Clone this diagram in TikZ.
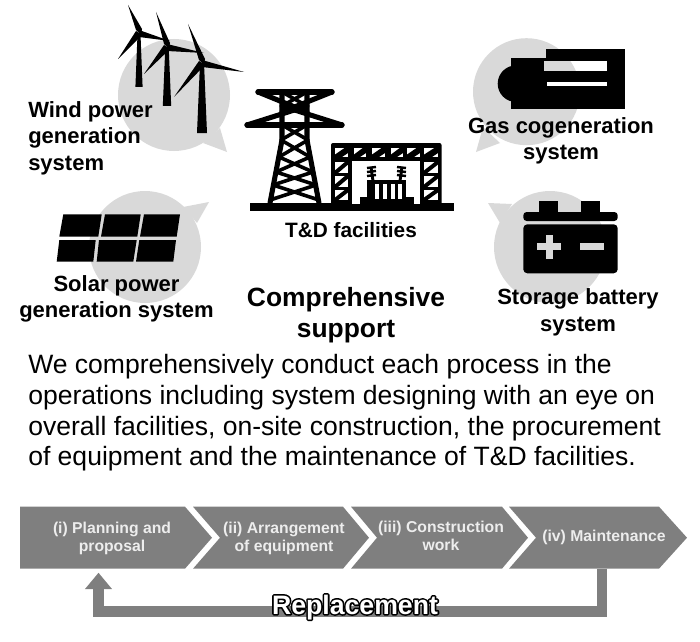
\documentclass[tikz,border=0pt]{standalone}
\usepackage{fontspec}
\setmainfont{Liberation Sans}
\usetikzlibrary{arrows.meta}
\definecolor{bub}{HTML}{D9D9D9}
\definecolor{chev}{HTML}{7F7F7F}
\newcommand{\outlined}[1]{\rlap{\special{pdf:code 2 Tr 0 0 0 RG 2.4 w 1 j}#1\special{pdf:code 0 Tr 0.75 w 0 j}}#1}
\tikzset{
  bubble/.style={fill=bub,draw=none},
  ink/.style={fill=black,draw=none},
  steel/.style={draw=black,line width=3.8pt,line cap=round,line join=round},
  brace/.style={draw=black,line width=2.7pt,line cap=round},
  blade/.style={fill=black,draw=none},
  chevron/.style={fill=chev,draw=none},
  lab/.style={font=\fontsize{16.5}{19.9}\selectfont\bfseries,inner sep=0pt,align=center,text=black},
  chevlab/.style={font=\fontsize{11.8}{13.6}\selectfont\bfseries,inner sep=0pt,align=center,text=white!93!black},
}
\begin{document}
\begin{tikzpicture}[x=0.75pt,y=-0.75pt]
\useasboundingbox (0,0) rectangle (700,642);
% bubbles
\fill[bubble] (174,95) circle (56);
\fill[bubble] (203,143) -- (227,152) -- (220,128) -- cycle;
\fill[bubble] (145,247) circle (56);
\fill[bubble] (183,207) -- (209,202) -- (197,223) -- cycle;
\fill[bubble] (526.5,91.7) circle (53.5);
\fill[bubble] (500,143) -- (476,152) -- (483,127) -- cycle;
\fill[bubble] (550,247) circle (56);
\fill[bubble] (512,204) -- (488,203) -- (500,223) -- cycle;
% turbines
\newcommand{\turbine}[9]{%
  \fill[blade] (#1-#3*.4,#2) -- (#1+#3*.4,#2) -- (#1+#3,#4) -- (#1-#3,#4) -- cycle;
  \fill[blade] (#1-3,#2-3) -- (#5,#6) -- (#1+3,#2-4) -- (#1+2,#2+2) -- cycle;
  \fill[blade] (#1,#2-3) -- (#7,#8) -- (#1,#2+4) -- cycle;
  \fill[blade] (#1+3,#2+2) -- (#9) -- (#1-3,#2-2) -- cycle;
}
\turbine{139}{33}{3.6}{87}{128}{5}{170}{41}{118,59}
\turbine{167}{47}{4.2}{106}{156}{12}{204}{53}{144,74}
\turbine{202}{63}{5}{133}{188}{24}{244}{72}{174,97}
% solar
\fill[ink] (63.3,214.3) -- (101.7,214.3) -- (98.3,236.7) -- (59.3,236.7) -- cycle;
\fill[ink] (105,214.3) -- (140.7,214.3) -- (137.3,236.7) -- (101,236.7) -- cycle;
\fill[ink] (144,214.3) -- (180,214.3) -- (176.7,236.7) -- (140,236.7) -- cycle;
\fill[ink] (59.3,240) -- (95.7,240) -- (93.3,261.7) -- (56.7,261.7) -- cycle;
\fill[ink] (99,240) -- (136.7,240) -- (133.3,261.7) -- (96.7,261.7) -- cycle;
\fill[ink] (139.3,240) -- (176,240) -- (173.3,261.7) -- (136,261.7) -- cycle;
% gas engine
\fill[ink] (516,83.7) circle (18.3);
\fill[ink] (511,57.7) rectangle (546,109);
\fill[ink] (546,49) rectangle (625.3,109);
\fill[white] (544,60.7) rectangle (607.3,70.7);
\fill[white] (546.7,82) rectangle (607.3,86);
\begin{scope}
  \clip (526.5,91.7) circle (53.5);
  \fill[bub] (544,60.7) rectangle (607.3,70.7);
\end{scope}
% battery
\fill[ink] (539.3,200.7) rectangle (558.3,213);
\fill[ink] (581,200.7) rectangle (600,213);
\fill[ink,rounded corners=2.5pt] (523.3,212) rectangle (617.7,221);
\fill[ink,rounded corners=3pt] (523.3,224.3) rectangle (617.7,273.3);
\fill[bub] (537.3,243.3) rectangle (561,250);
\fill[bub] (546,235) rectangle (552.7,258.7);
\fill[bub] (580,243.3) rectangle (604,250);
% pylon
\fill[ink] (250,203) rectangle (454,211);
\draw[steel] (258,92) -- (332,92);
\draw[steel] (247,125) -- (342,125);
\draw[steel] (258,92) -- (307,112);
\draw[steel] (332,92) -- (282,112);
\draw[steel] (247,125) -- (307,106);
\draw[steel] (342,125) -- (282,106);
\draw[steel] (282,92) -- (282,140) -- (270,203);
\draw[steel] (307,92) -- (307,140) -- (319,203);
\draw[brace] (282,92) -- (307,106) (307,92) -- (282,106);
\draw[brace] (282,125) -- (308,140) (307,125) -- (281,140);
\draw[brace] (281,140) -- (310,157) (308,140) -- (279,157);
\draw[brace] (279,157) -- (313,172) (310,157) -- (276,172);
\draw[brace] (276,172) -- (316,185) (313,172) -- (273,185);
\draw[brace] (273,185) -- (319,200) (316,185) -- (270,200);
% substation
\fill[ink,rounded corners=1.5pt] (331,143) rectangle (441.5,205);
\fill[white] (352,161) rectangle (420,204);
\foreach \a/\b in {335/348,354/366,372/385,391/403,407/420,424/438}{
  \fill[white] (\a,148) rectangle (\b,157);
  \draw[black,line width=3pt] (\a,157) -- (\b,148);
  \fill[black] (\b,148) -- (\b,153) -- (\b-6,157) -- (\a+2,157) -- cycle;
}
\foreach \a/\b in {335/348,424/438}{
  \foreach \c/\d in {162/173,176/187,190/200}{
    \fill[white] (\a,\c) rectangle (\b,\d);
    \draw[black,line width=3pt] (\a,\d) -- (\b,\c);
  }
}
\fill[ink] (360,197) rectangle (414,204);
\fill[ink] (367,180) rectangle (406,204);
\foreach \a in {375,383,391,398}{\fill[white] (\a,184) rectangle (\a+3.5,199);}
\draw[black,line width=2.2pt] (373,181) -- (371,167);
\draw[black,line width=2.2pt] (400,181) -- (402,167);
\foreach \c in {168,172,176}{
  \draw[black,line width=1.8pt] (367,\c) -- (376,\c-1);
  \draw[black,line width=1.8pt] (397,\c-1) -- (406,\c);
}
% labels
\node[lab,align=left,anchor=north west] (wind) at (28,101) {Wind power\\generation\\system};
\node[lab,anchor=north] (solar) at (116.5,275) {Solar power\\generation system};
\node[lab,anchor=north] (gas) at (561,117) {Gas cogeneration\\system};
\node[lab,anchor=north,font=\fontsize{16.5}{20.2}\selectfont\bfseries] (batt) at (578,288) {Storage battery\\system};
\node[lab,anchor=base,font=\fontsize{15.6}{18}\selectfont\bfseries] (td) at (351,237) {T\&D facilities};
\node[lab,anchor=north,font=\fontsize{19.8}{23.3}\selectfont\bfseries] (comp) at (346,287) {Comprehensive\\support};
\node[inner sep=0pt,anchor=north west,align=left,font=\fontsize{19.9}{22.9}\selectfont] (body) at (28,354.5)
 {We comprehensively conduct each process in the\\operations including system designing with an eye on\\overall facilities, on-site construction, the procurement\\of equipment and the maintenance of T\&D facilities.};
% chevrons
\fill[chevron] (20,506.7) -- (185,506.7) -- (212,537.7) -- (185,568.7) -- (20,568.7) -- cycle;
\fill[chevron] (193,506.7) -- (343,506.7) -- (369,537.7) -- (343,568.7) -- (193,568.7) -- (220,537.7) -- cycle;
\fill[chevron] (351,506.7) -- (502,506.7) -- (528,537.7) -- (502,568.7) -- (351,568.7) -- (377,537.7) -- cycle;
\fill[chevron] (509,506.7) -- (659,506.7) -- (687,537.7) -- (659,568.7) -- (509,568.7) -- (536,537.7) -- cycle;
\node[chevlab,anchor=north] (s1) at (112,522) {(i) Planning and\\proposal};
\node[chevlab,anchor=north] (s2) at (284,522) {(ii) Arrangement\\of equipment};
\node[chevlab,anchor=north] (s3) at (441,521) {(iii) Construction\\work};
\node[chevlab,anchor=center] (s4) at (604,537) {(iv) Maintenance};
% return arrow
\coordinate (retfrom) at (602,568.7);
\coordinate (retcorner) at (602,611.5);
\coordinate (retto) at (98.5,572.7);
\draw[chev,line width=7.9pt,-{Triangle[width=19.5pt,length=12.3pt]}] (retfrom) -- (retcorner) -| (retto);
\node[inner sep=0pt,anchor=base,font=\fontsize{20}{24}\selectfont\bfseries,text=white] (repl) at (355,614) {\outlined{Replacement}};
\end{tikzpicture}
\end{document}
